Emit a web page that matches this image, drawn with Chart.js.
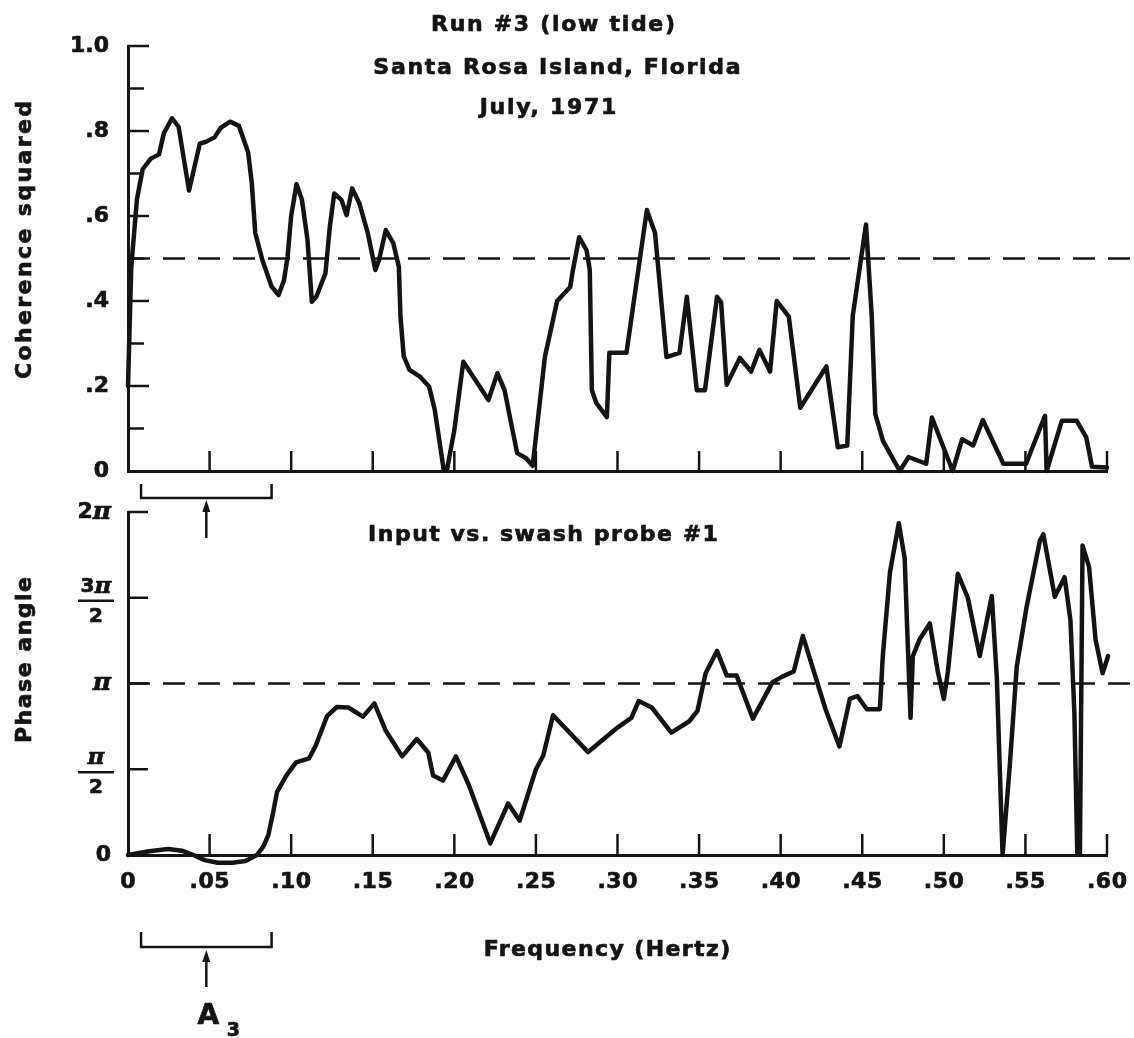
<!DOCTYPE html>
<html>
<head>
<meta charset="utf-8">
<script src="https://cdn.jsdelivr.net/npm/chart.js@4.4.1/dist/chart.umd.min.js"></script>
<style>
  html, body { margin: 0; padding: 0; background: #fff; }
  #wrap { position: relative; width: 1134px; height: 1038px; overflow: hidden; background: #fff; }
  canvas { position: absolute; left: 0; }
  #cTop { top: 0; }
  #cBot { top: 480px; }
</style>
</head>
<body>
<div id="wrap">
  <canvas id="cTop" width="1134" height="560"></canvas>
  <canvas id="cBot" width="1134" height="558"></canvas>
</div>
<script>
// ---- Coherence squared vs frequency (Hz) ----
const cohFreq = [
  0, 0.002, 0.0055, 0.009, 0.014, 0.019, 0.022, 0.027, 0.031, 0.0374,
  0.044, 0.048, 0.053, 0.057, 0.0626, 0.068, 0.0736, 0.0758, 0.078, 0.0824,
  0.088, 0.0923, 0.0956, 0.0978, 0.100, 0.1033, 0.1066, 0.110, 0.1127, 0.1154,
  0.121, 0.1237, 0.1264, 0.1308, 0.134, 0.1374, 0.1418, 0.147, 0.1516, 0.1538,
  0.158, 0.1626, 0.166, 0.167, 0.169, 0.1725, 0.179, 0.1846, 0.188, 0.1934,
  0.1956, 0.200, 0.2055, 0.2143, 0.2209, 0.2264, 0.2308, 0.234, 0.2385, 0.244,
  0.248, 0.2555, 0.263, 0.271, 0.2727, 0.2765, 0.281, 0.283, 0.2843, 0.287,
  0.2935, 0.295, 0.3055, 0.318, 0.323, 0.330, 0.338, 0.3425, 0.3486, 0.3536,
  0.361, 0.3635, 0.3669, 0.375, 0.3819, 0.387, 0.3935, 0.3976, 0.405, 0.412,
  0.428, 0.435, 0.4408, 0.4442, 0.4523, 0.4558, 0.458, 0.4627, 0.473, 0.4784,
  0.4892, 0.4927, 0.5054, 0.5112, 0.518, 0.5239, 0.5365, 0.5504, 0.562, 0.563,
  0.5723, 0.5815, 0.5873, 0.5908, 0.600
];
const cohValue = [
  0.20, 0.48, 0.64, 0.71, 0.735, 0.745, 0.795, 0.83, 0.81, 0.66,
  0.77, 0.775, 0.785, 0.808, 0.822, 0.812, 0.75, 0.68, 0.56, 0.496,
  0.434, 0.414, 0.449, 0.504, 0.60, 0.675, 0.638, 0.544, 0.398, 0.41,
  0.465, 0.575, 0.653, 0.638, 0.602, 0.665, 0.63, 0.559, 0.473, 0.496,
  0.567, 0.536, 0.48, 0.363, 0.27, 0.238, 0.222, 0.198, 0.144, 0.005,
  0.005, 0.096, 0.257, 0.206, 0.167, 0.23, 0.19, 0.128, 0.042, 0.03,
  0.012, 0.268, 0.40, 0.433, 0.473, 0.55, 0.52, 0.473, 0.19, 0.16,
  0.127, 0.278, 0.278, 0.614, 0.56, 0.268, 0.278, 0.41, 0.19, 0.19,
  0.41, 0.397, 0.203, 0.266, 0.234, 0.285, 0.234, 0.40, 0.363, 0.149,
  0.246, 0.056, 0.06, 0.366, 0.58, 0.366, 0.134, 0.071, 0.0, 0.033,
  0.017, 0.126, 0.0, 0.075, 0.06, 0.12, 0.017, 0.017, 0.13, 0.0,
  0.118, 0.118, 0.079, 0.01, 0.008
];

// ---- Phase angle (in multiples of pi) vs frequency (Hz) ----
const phaseFreq = [
  0, 0.012, 0.0245, 0.033, 0.04, 0.047, 0.055, 0.064, 0.072, 0.079,
  0.083, 0.086, 0.089, 0.0913, 0.097, 0.103, 0.111, 0.115, 0.122, 0.128,
  0.135, 0.144, 0.151, 0.158, 0.168, 0.177, 0.184, 0.187, 0.193, 0.201,
  0.209, 0.222, 0.233, 0.240, 0.250, 0.2545, 0.2605, 0.282, 0.300, 0.3085,
  0.313, 0.321, 0.333, 0.344, 0.349, 0.354, 0.361, 0.367, 0.373, 0.383,
  0.395, 0.401, 0.408, 0.4136, 0.4275, 0.436, 0.4424, 0.447, 0.4528, 0.4608,
  0.4626, 0.467, 0.4724, 0.476, 0.478, 0.4796, 0.481, 0.4853, 0.4914, 0.4963,
  0.500, 0.5025, 0.5086, 0.5147, 0.522, 0.5294, 0.5325, 0.536, 0.5404, 0.5447,
  0.5506, 0.5588, 0.561, 0.568, 0.574, 0.5776, 0.580, 0.5818, 0.5834, 0.585,
  0.589, 0.593, 0.5973, 0.6007, 0.604
];
const phasePi = [
  0.0, 0.02, 0.035, 0.025, 0.0, -0.03, -0.045, -0.045, -0.035, 0.0,
  0.05, 0.116, 0.25, 0.367, 0.463, 0.54, 0.564, 0.637, 0.81, 0.863,
  0.86, 0.807, 0.884, 0.724, 0.575, 0.676, 0.598, 0.463, 0.434, 0.575,
  0.405, 0.068, 0.30, 0.20, 0.50, 0.58, 0.815, 0.60, 0.743, 0.80,
  0.898, 0.86, 0.714, 0.78, 0.84, 1.06, 1.19, 1.046, 1.046, 0.795,
  1.008, 1.04, 1.07, 1.278, 0.85, 0.633, 0.91, 0.927, 0.85, 0.85,
  1.16, 1.65, 1.935, 1.73, 1.2, 0.80, 1.16, 1.26, 1.35, 1.07,
  0.91, 1.07, 1.64, 1.50, 1.16, 1.51, 1.03, 0.0, 0.52, 1.10,
  1.44, 1.83, 1.87, 1.506, 1.62, 1.37, 0.83, 0.01, 0.01, 1.805,
  1.68, 1.255, 1.06, 1.16, 1.60
];

// ---- Axis ticks and labels ----
const freqTicks = [0, 0.05, 0.10, 0.15, 0.20, 0.25, 0.30, 0.35, 0.40, 0.45, 0.50, 0.55, 0.60];
const freqTickLabels = ['0', '.05', '.10', '.15', '.20', '.25', '.30', '.35', '.40', '.45', '.50', '.55', '.60'];
const cohMajorTicks = [0, 0.2, 0.4, 0.6, 0.8, 1.0];
const cohTickLabels = ['0', '.2', '.4', '.6', '.8', '1.0'];
const cohMinorTicks = [0.1, 0.3, 0.5, 0.7, 0.9];
const phaseTicks = [0, 0.5, 1, 1.5, 2];
const phaseTickLabels = [['0'], ['\u03C0', '2'], ['\u03C0'], ['3\u03C0', '2'], ['2\u03C0']];
const cohReference = 0.5;
const phaseReference = 1;
const bandwidthBracket = [0.008, 0.088];   // A3 averaging band, Hz

const INK = '#141414';
const FONT = '"DejaVu Sans", "Liberation Sans", sans-serif';
const PI_FONT = '"DejaVu Serif", serif';

function text(ctx, s, x, y, size, align = 'center', spacing = 0) {
  ctx.save();
  ctx.font = `bold ${size}px ${FONT}`;
  ctx.letterSpacing = spacing + 'px';
  ctx.textAlign = align;
  ctx.textBaseline = 'middle';
  ctx.fillStyle = INK;
  ctx.strokeStyle = INK;
  ctx.lineWidth = 0.7;
  const dx = align === 'center' ? spacing / 2 : (align === 'right' ? spacing : 0);
  ctx.fillText(s, x + dx, y);
  ctx.strokeText(s, x + dx, y);
  ctx.restore();
}

// label made of digits and a pi glyph, e.g. "3π"
function piLabel(ctx, s, x, y, size, align) {
  ctx.save();
  ctx.textBaseline = 'middle';
  ctx.textAlign = 'left';
  ctx.fillStyle = INK;
  ctx.strokeStyle = INK;
  ctx.lineWidth = 0.7;
  const parts = s.split('').map(ch => ({
    ch,
    font: ch === '\u03C0' ? `bold italic ${size + 3}px ${PI_FONT}` : `bold ${size}px ${FONT}`
  }));
  let total = 0;
  parts.forEach(p => { ctx.font = p.font; p.w = ctx.measureText(p.ch).width; total += p.w; });
  let cx = align === 'right' ? x - total : x - total / 2;
  parts.forEach(p => {
    ctx.font = p.font;
    ctx.fillText(p.ch, cx, y);
    ctx.strokeText(p.ch, cx, y);
    cx += p.w;
  });
  ctx.restore();
}

function vtext(ctx, s, x, y, size, spacing) {
  ctx.save();
  ctx.translate(x, y);
  ctx.rotate(-Math.PI / 2);
  text(ctx, s, 0, 0, size, 'center', spacing);
  ctx.restore();
}

function line(ctx, x0, y0, x1, y1, w) {
  ctx.save();
  ctx.strokeStyle = INK;
  ctx.lineWidth = w;
  ctx.lineCap = 'butt';
  ctx.beginPath();
  ctx.moveTo(x0, y0);
  ctx.lineTo(x1, y1);
  ctx.stroke();
  ctx.restore();
}

function dashedRef(chart, value) {
  const { ctx, chartArea, scales } = chart;
  const py = scales.y.getPixelForValue(value);
  ctx.save();
  ctx.strokeStyle = INK;
  ctx.lineWidth = 2.5;
  ctx.setLineDash([22, 13]);
  ctx.beginPath();
  ctx.moveTo(chartArea.left, py);
  ctx.lineTo(chart.width, py);
  ctx.stroke();
  ctx.restore();
}

function bracket(chart, yLine, yEnds, yArrowTail, yArrowHead) {
  const { ctx, scales } = chart;
  const x0 = scales.x.getPixelForValue(bandwidthBracket[0]);
  const x1 = scales.x.getPixelForValue(bandwidthBracket[1]);
  const xc = (x0 + x1) / 2;
  ctx.save();
  ctx.strokeStyle = INK;
  ctx.lineWidth = 2.5;
  ctx.beginPath();
  ctx.moveTo(x0, yEnds);
  ctx.lineTo(x0, yLine);
  ctx.lineTo(x1, yLine);
  ctx.lineTo(x1, yEnds);
  ctx.stroke();
  ctx.beginPath();
  ctx.moveTo(xc, yArrowTail);
  ctx.lineTo(xc, yArrowHead + 8);
  ctx.stroke();
  ctx.fillStyle = INK;
  ctx.beginPath();
  ctx.moveTo(xc, yArrowHead);
  ctx.lineTo(xc - 4, yArrowHead + 12);
  ctx.lineTo(xc + 4, yArrowHead + 12);
  ctx.closePath();
  ctx.fill();
  ctx.restore();
  return xc;
}

function xTicksUp(chart, len) {
  const { ctx, chartArea, scales } = chart;
  freqTicks.forEach(v => {
    if (v === 0) return;
    const px = scales.x.getPixelForValue(v);
    line(ctx, px, chartArea.bottom, px, chartArea.bottom - len, 2.5);
  });
}

// Top panel decorations: reference line, ticks, labels, titles
const topDecor = {
  id: 'topDecor',
  beforeDatasetsDraw(chart) {
    const { ctx, chartArea, scales } = chart;
    dashedRef(chart, cohReference);
    cohMajorTicks.forEach(v => {
      if (v === 0) return;
      const py = scales.y.getPixelForValue(v);
      line(ctx, chartArea.left, py, chartArea.left + 21, py, 2.5);
    });
    cohMinorTicks.forEach(v => {
      const py = scales.y.getPixelForValue(v);
      line(ctx, chartArea.left, py, chartArea.left + 16, py, 2.5);
    });
    xTicksUp(chart, 20);
  },
  afterDraw(chart) {
    const { ctx, chartArea, scales } = chart;
    cohMajorTicks.forEach((v, i) => {
      text(ctx, cohTickLabels[i], chartArea.left - 19, scales.y.getPixelForValue(v), 22, 'right');
    });
    text(ctx, 'Run #3 (low tide)', 553, 25, 22, 'center', 1.7);
    text(ctx, 'Santa Rosa Island, Florida', 557, 68, 22, 'center', 1.7);
    text(ctx, 'July, 1971', 548, 108, 22, 'center', 1.7);
    vtext(ctx, 'Coherence squared', 25, 240, 22, 2.4);
    bracket(chart, 498, 484, 538, 500);
  }
};

// Bottom panel decorations
const botDecor = {
  id: 'botDecor',
  beforeDatasetsDraw(chart) {
    const { ctx, chartArea, scales } = chart;
    dashedRef(chart, phaseReference);
    phaseTicks.forEach(v => {
      if (v === 0) return;
      const py = scales.y.getPixelForValue(v);
      line(ctx, chartArea.left, py, chartArea.left + 20, py, 2.5);
    });
    xTicksUp(chart, 21);
  },
  afterDraw(chart) {
    const { ctx, chartArea, scales } = chart;
    phaseTicks.forEach((v, i) => {
      const py = scales.y.getPixelForValue(v);
      const lab = phaseTickLabels[i];
      if (lab.length === 1) {
        piLabel(ctx, lab[0], chartArea.left - 17, py, 22, 'right');
      } else {
        const cx = 96;
        piLabel(ctx, lab[0], cx, py - 11, 20, 'center');
        line(ctx, cx - 18, py + 3, cx + 18, py + 3, 2.5);
        piLabel(ctx, lab[1], cx, py + 19, 20, 'center');
      }
    });
    freqTicks.forEach((v, i) => {
      text(ctx, freqTickLabels[i], scales.x.getPixelForValue(v), chartArea.bottom + 27, 22, 'center', 0.5);
    });
    text(ctx, 'Input vs. swash probe #1', 543, 55, 22, 'center', 1.5);
    text(ctx, 'Frequency (Hertz)', 607, 470, 22, 'center', 1.4);
    vtext(ctx, 'Phase angle', 25, 180, 22, 1.5);
    const xc = bracket(chart, 467, 452, 507, 470);
    text(ctx, 'A', xc + 2, 537, 28, 'center');
    text(ctx, '3', xc + 27, 551, 19, 'center');
  }
};

function panel(canvasId, xs, ys, yMax, yMin, areaTop, areaBottom, decor) {
  const canvas = document.getElementById(canvasId);
  return new Chart(canvas, {
    type: 'line',
    data: {
      datasets: [{
        data: xs.map((x, i) => ({ x, y: ys[i] })),
        borderColor: INK,
        borderWidth: 4.5,
        pointRadius: 0,
        tension: 0,
        borderJoinStyle: 'round',
        borderCapStyle: 'round',
        clip: false
      }]
    },
    options: {
      responsive: false,
      animation: false,
      events: [],
      layout: { padding: { left: 0, right: 27, top: areaTop, bottom: 0 } },
      plugins: { legend: { display: false }, tooltip: { enabled: false } },
      scales: {
        x: {
          type: 'linear', min: 0, max: 0.6,
          grid: { display: false, drawTicks: false },
          ticks: { display: false },
          border: { display: true, color: INK, width: 3 },
          afterFit: s => { s.height = canvas.height - areaBottom; }
        },
        y: {
          type: 'linear', min: yMin, max: yMax,
          grid: { display: false, drawTicks: false },
          ticks: { display: false },
          border: { display: true, color: INK, width: 3 },
          afterFit: s => { s.width = 128; }
        }
      }
    },
    plugins: [decor]
  });
}

panel('cTop', cohFreq, cohValue, 1, 0, 46, 471, topDecor);
panel('cBot', phaseFreq, phasePi, 2, 0, 32, 375, botDecor);
</script>
</body>
</html>
